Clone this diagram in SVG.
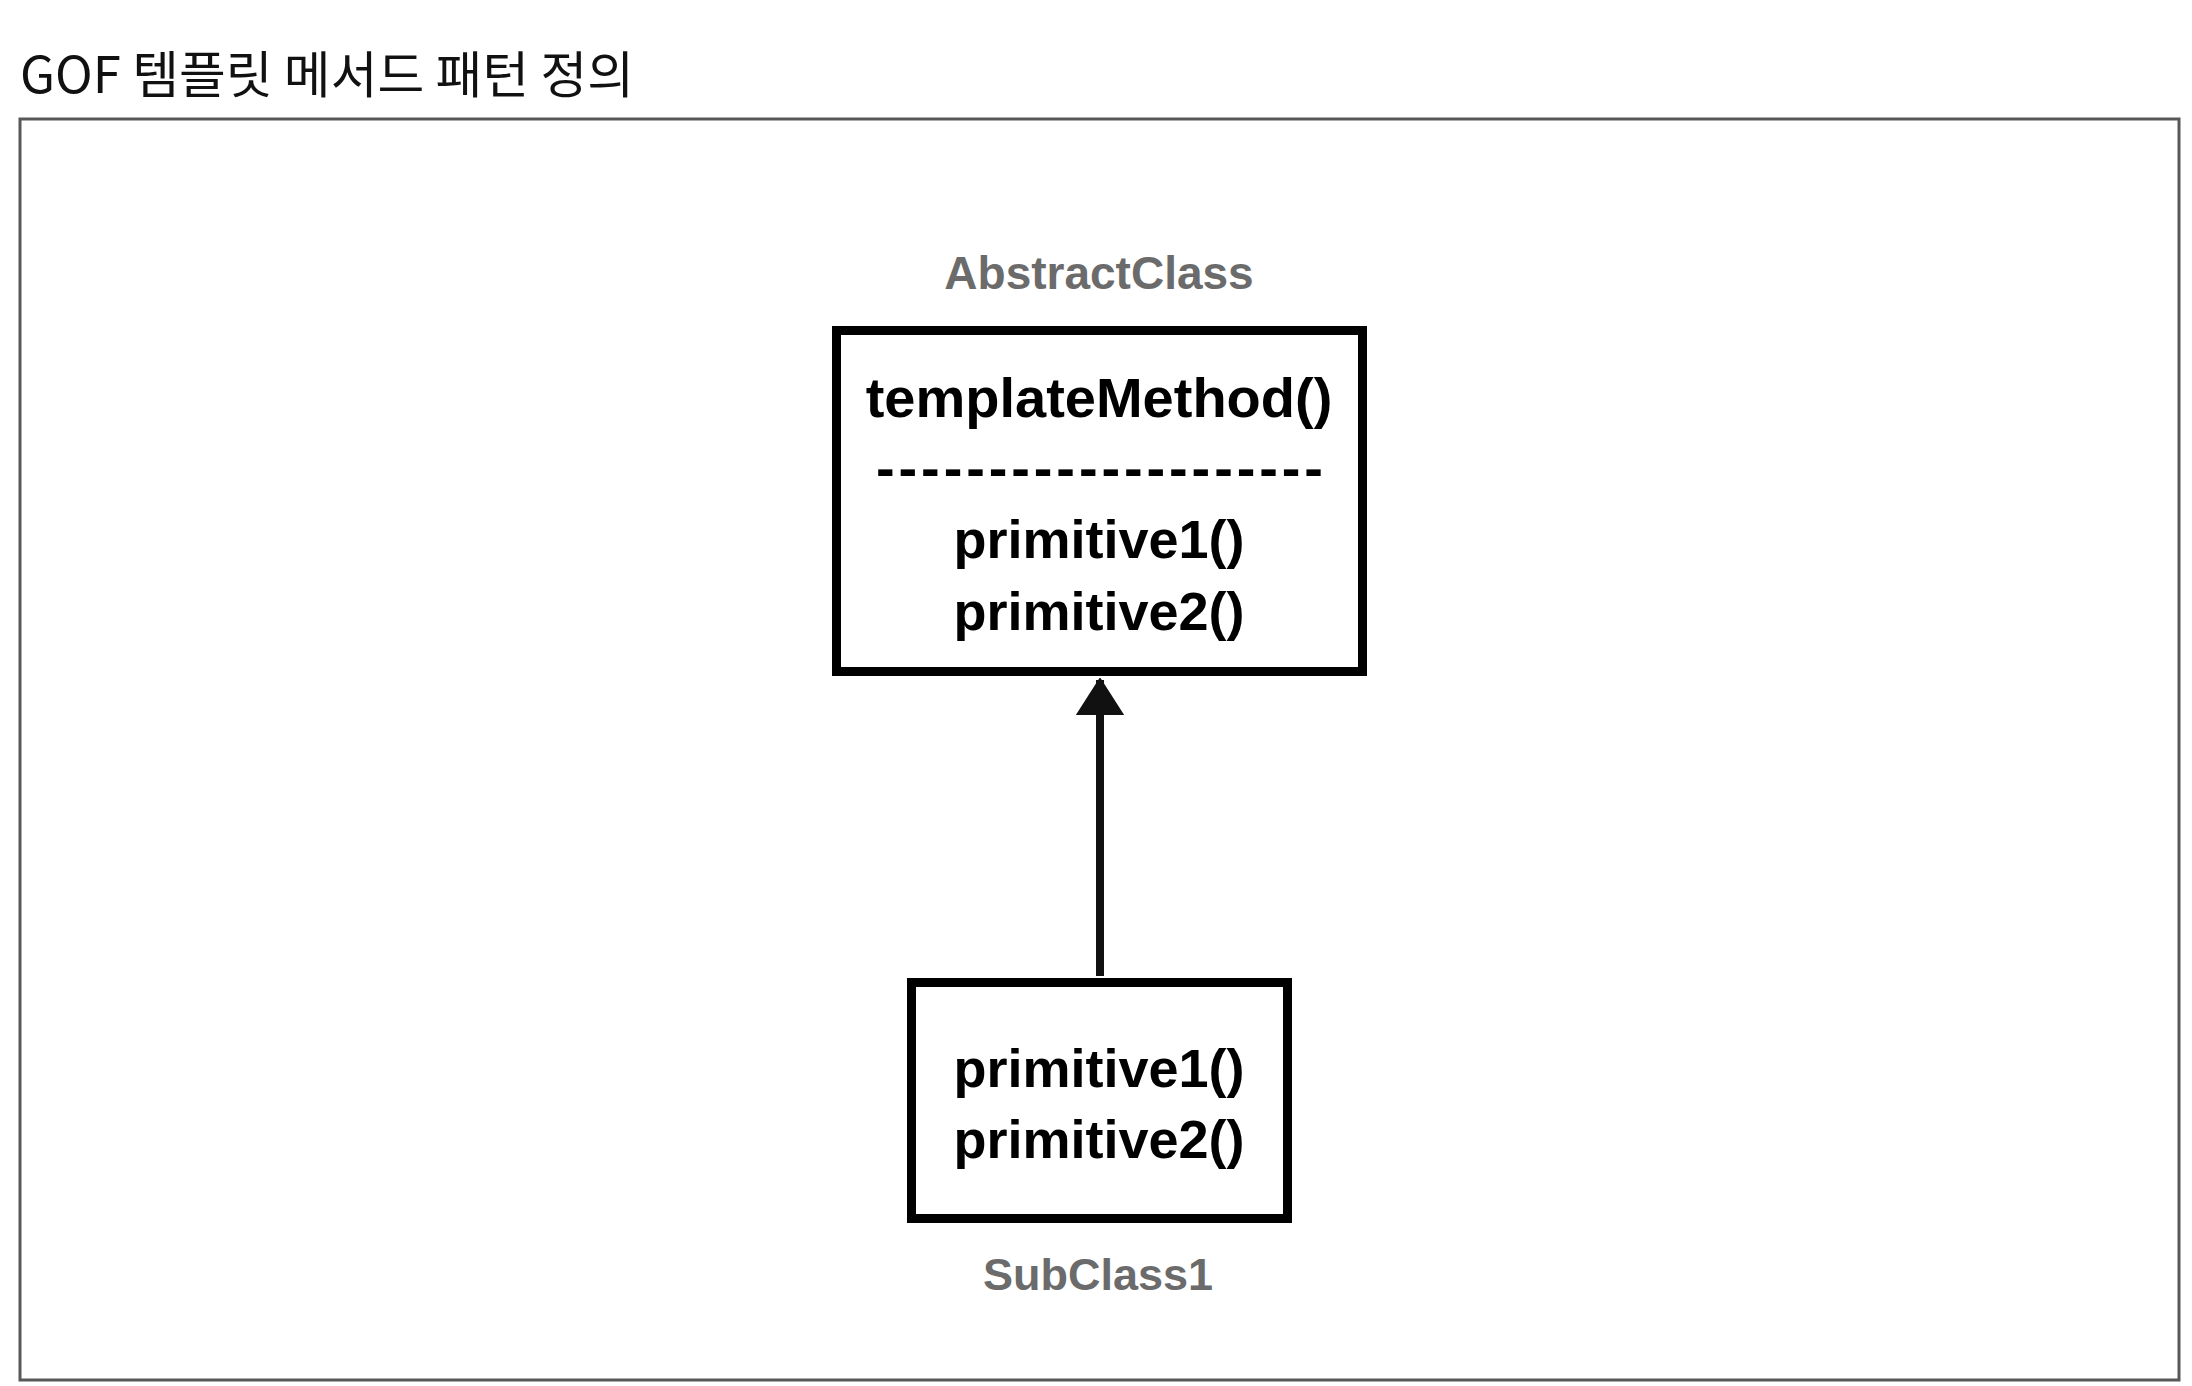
<svg xmlns="http://www.w3.org/2000/svg" width="2192" height="1386" viewBox="0 0 2192 1386">
  <style>
    .title { font-family: "Noto Sans CJK KR", "Noto Sans", sans-serif; font-size: 50px; font-weight: 400; fill: #111; }
    .cls { font-family: "Liberation Sans", Arial, sans-serif; font-weight: bold; fill: #6b6b6b; text-anchor: middle; }
    .mth { font-family: "Liberation Sans", Arial, sans-serif; font-weight: bold; fill: #000; text-anchor: middle; }
    .box { fill: #fff; stroke: #000; stroke-width: 9; }
    .frame { fill: #fff; stroke: #585858; stroke-width: 3; }
    .edge { stroke: #111; stroke-width: 8; fill: none; }
  </style>
  <defs>
    <marker id="tri" viewBox="0 0 37 50" refX="35" refY="25" markerWidth="37" markerHeight="50" markerUnits="userSpaceOnUse" orient="auto">
      <path d="M0,2 L36,25 L0,48 Z" fill="#111" stroke="#111" stroke-width="2" stroke-linejoin="round"/>
    </marker>
  </defs>
  <rect width="2192" height="1386" fill="#fff"/>
  <text class="title" x="20" y="93" textLength="614" lengthAdjust="spacingAndGlyphs">GOF 템플릿 메서드 패턴 정의</text>
  <rect class="frame" x="20" y="119" width="2159" height="1261"/>

  <g id="connectors">
    <path class="edge" d="M1100,976 L1100,680" marker-end="url(#tri)"/>
  </g>

  <g id="abstract-class">
    <text class="cls" x="1099" y="289" font-size="46">AbstractClass</text>
    <rect class="box" x="836.5" y="330.5" width="526" height="341"/>
    <text class="mth" x="1099" y="417" font-size="56">templateMethod()</text>
    <text class="mth" x="876" y="487" font-size="56" style="text-anchor:start" textLength="447" lengthAdjust="spacing">--------------------</text>
    <text class="mth" x="1099" y="558" font-size="54">primitive1()</text>
    <text class="mth" x="1099" y="630" font-size="54">primitive2()</text>
  </g>

  <g id="sub-class1">
    <rect class="box" x="911.5" y="982.5" width="376" height="236"/>
    <text class="mth" x="1099" y="1087" font-size="54">primitive1()</text>
    <text class="mth" x="1099" y="1158" font-size="54">primitive2()</text>
    <text class="cls" x="1098" y="1290" font-size="45">SubClass1</text>
  </g>
</svg>
